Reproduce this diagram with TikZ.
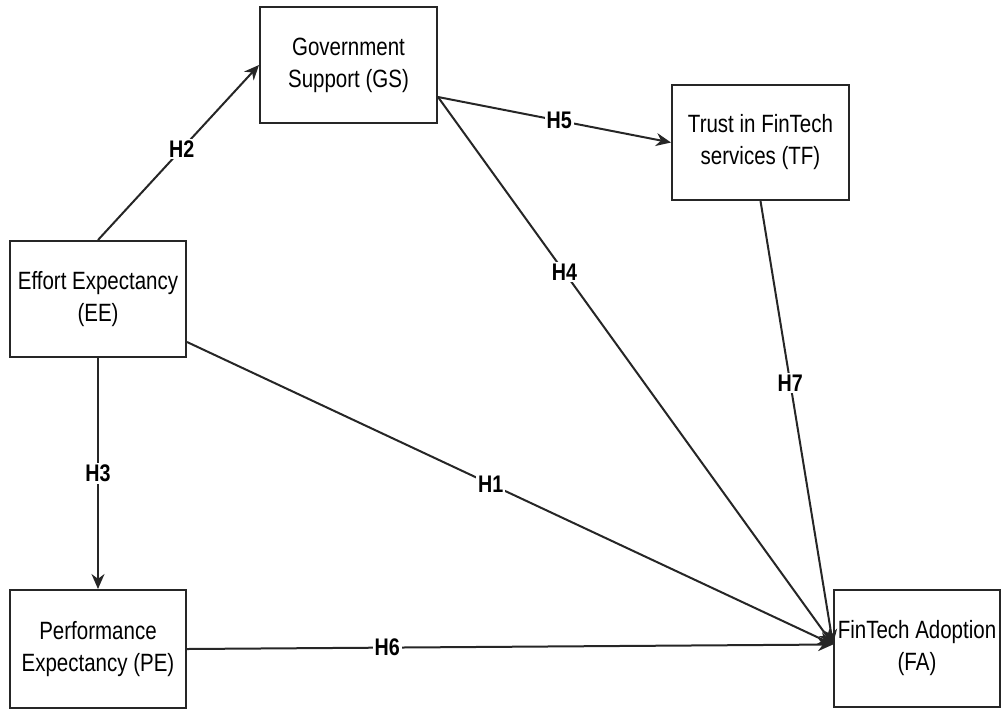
\documentclass[tikz,border=0pt]{standalone}
\usepackage{fontspec}
\setmainfont[FakeStretch=0.82]{Liberation Sans}
\usepackage{tikz}
\usetikzlibrary{arrows.meta,positioning,calc}

\begin{document}
\begin{tikzpicture}[x=0.5pt, y=-0.5pt,
construct/.style={draw=black!85, line width=1pt, align=center, inner sep=1pt, font=\fontsize{12.5}{16}\selectfont},
path/.style={-{Stealth[length=7.5pt, width=6.5pt]}, line width=1pt, draw=black!85},
hyp/.style={fill=white, inner sep=1pt, font=\fontsize{12}{14}\selectfont\bfseries}
]
\useasboundingbox (0,0) rectangle (1004,712);
\node[construct, minimum width=88.5pt, minimum height=58pt] (GS) at (348.5,65) {Government\\Support (GS)};
\node[construct, minimum width=88.5pt, minimum height=57.5pt] (TF) at (760.5,142.5) {Trust in FinTech\\services (TF)};
\node[construct, minimum width=88pt, minimum height=58pt] (EE) at (98,299) {Effort Expectancy\\(EE)};
\node[construct, minimum width=88pt, minimum height=59pt] (PE) at (98,649) {Performance\\Expectancy (PE)};
\node[construct, minimum width=83pt, minimum height=58.5pt] (FA) at (917,648.5) {FinTech Adoption\\(FA)};
\coordinate (gsout) at ([yshift=-16pt]GS.east);
\coordinate (eeout) at ([yshift=-21.5pt]EE.east);
\coordinate (fain) at ([yshift=2pt]FA.west);
\draw[path] (EE.north) -- node[hyp, pos=0.52] {H2} (GS.west);
\draw[path] (EE.south) -- node[hyp, pos=0.5] {H3} (PE.north);
\draw[path] (gsout) -- node[hyp, pos=0.52] {H5} (TF.west);
\draw[path] (gsout) -- node[hyp, pos=0.32] {H4} (fain);
\draw[path] (eeout) -- node[hyp, pos=0.47] {H1} (fain);
\draw[path] (PE.east) -- node[hyp, pos=0.31] {H6} (fain);
\draw[path] (TF.south) -- node[hyp, pos=0.41] {H7} (fain);
\end{tikzpicture}
\end{document}
